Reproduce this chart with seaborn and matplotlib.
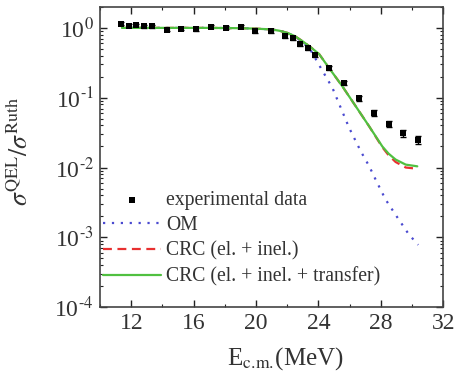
import numpy as np
import pandas as pd
import matplotlib
matplotlib.use("Agg")
import matplotlib.pyplot as plt
import seaborn as sns
from matplotlib.ticker import MultipleLocator, LogLocator, NullFormatter, FuncFormatter

# experimental data
e_exp = [11.36, 11.85, 12.32, 12.8, 13.3, 14.28, 15.2, 16.16, 17.12, 18.08, 19.04,
         19.95, 20.93, 21.87, 22.34, 22.81, 23.3, 23.75, 24.69, 25.65, 26.6, 27.57,
         28.5, 29.44, 30.4]
sig_exp = [1.14, 1.08, 1.10, 1.06, 1.06, 0.94, 0.97, 0.95, 1.04, 1.0, 1.04,
           0.91, 0.89, 0.77, 0.71, 0.58, 0.51, 0.41, 0.265, 0.162, 0.098, 0.061,
           0.042, 0.031, 0.025]
err_rel = [0.05, 0.05, 0.05, 0.05, 0.05, 0.05, 0.05, 0.05, 0.05, 0.05, 0.05,
           0.06, 0.06, 0.06, 0.06, 0.06, 0.06, 0.06, 0.07, 0.07, 0.08, 0.09,
           0.1, 0.12, 0.14]

# OM curve
e_om = [11.4, 14.0, 17.0, 19.0, 20.0, 21.0, 21.5, 22.0, 22.5, 23.0, 23.5, 24.16,
        24.9, 25.44, 25.97, 26.72, 27.25, 27.67, 28.3, 28.95, 29.8, 30.4]
sig_om = [1.0, 1.0, 1.0, 0.99, 0.975, 0.95, 0.91, 0.85, 0.75, 0.62, 0.48, 0.265,
          0.138, 0.071, 0.037, 0.017, 0.0105, 0.0067, 0.0035, 0.0021, 0.0011, 0.00078]

# CRC curves
e_crc = [11.4, 14.0, 17.0, 19.0, 20.0, 21.0, 21.5, 22.0, 22.5, 23.0, 23.5, 24.05,
         24.69, 25.54, 26.4, 27.25, 28.1, 28.5, 28.95, 29.6, 30.34]
sig_crc_t = [1.0, 1.0, 1.0, 0.99, 0.975, 0.95, 0.91, 0.85, 0.76, 0.64, 0.53, 0.42,
             0.265, 0.145, 0.075, 0.039, 0.020, 0.0158, 0.013, 0.011, 0.0104]
sig_crc = [1.0, 1.0, 1.0, 0.99, 0.975, 0.95, 0.91, 0.85, 0.76, 0.64, 0.53, 0.42,
           0.265, 0.145, 0.075, 0.039, 0.0195, 0.0150, 0.0120, 0.0100, 0.0096]

sns.set_style("ticks")
plt.rcParams.update({
    "font.family": ["Liberation Serif", "DejaVu Serif"],
    "mathtext.fontset": "stix",
    "axes.edgecolor": "#444444",
    "axes.linewidth": 1.2,
    "xtick.direction": "in",
    "ytick.direction": "in",
})

fig = plt.figure(figsize=(4.55, 3.82), dpi=100)
ax = fig.add_axes([0.22, 0.196, 0.754, 0.786])

df_exp = pd.DataFrame({"E": e_exp, "s": sig_exp})
yerr = np.array(sig_exp) * np.array(err_rel)
ax.errorbar(e_exp, sig_exp, yerr=yerr, fmt="none", ecolor="black", elinewidth=1,
            capsize=2.5, capthick=1)
sns.scatterplot(data=df_exp, x="E", y="s", marker="s", color="black", s=24,
                edgecolor="black", linewidth=0, ax=ax, label="experimental data", zorder=5)

sns.lineplot(x=e_om, y=sig_om, ax=ax, color="#4a4ad0", linestyle=(0, (1, 3)),
             linewidth=1.6, label="OM")
sns.lineplot(x=e_crc, y=sig_crc, ax=ax, color="#e83030", linestyle=(0, (4, 2.5)),
             linewidth=1.6, label="CRC (el. + inel.)")
sns.lineplot(x=e_crc, y=sig_crc_t, ax=ax, color="#50c040", linewidth=1.6,
             label="CRC (el. + inel. + transfer)")

ax.set_yscale("log")
ax.set_xlim(10, 32)
ax.set_ylim(1e-4, 2)
ax.xaxis.set_major_locator(MultipleLocator(4))
ax.xaxis.set_minor_locator(MultipleLocator(2))
ax.yaxis.set_major_locator(LogLocator(base=10, numticks=10))
ax.yaxis.set_minor_locator(LogLocator(base=10, subs=np.arange(2, 10) * 1.0, numticks=20))
ax.yaxis.set_minor_formatter(NullFormatter())


def pow10(v, pos):
    p = int(round(np.log10(v)))
    if p < 0:
        return "10$^{\\text{-}%d}$" % (-p)
    return "10$^{%d}$" % p


ax.yaxis.set_major_formatter(FuncFormatter(pow10))
ax.tick_params(which="both", top=True, right=True, labelsize=17, colors="#222222")
ax.tick_params(which="major", length=5, width=1, pad=4.5)
ax.tick_params(which="minor", length=2.5, width=0.8)
for lab in ax.get_xticklabels() + ax.get_yticklabels():
    lab.set_color("#333333")

ax.set_xlabel(r"E$_{\mathrm{c.\!m.\!}}$(MeV)", fontsize=18, color="#333333")
ax.xaxis.set_label_coords(0.54, -0.125)
ax.set_ylabel(r"$\sigma^{\mathrm{QEL}}/\sigma^{\mathrm{Ruth}}$", fontsize=18.5,
              color="#333333")
ax.yaxis.set_label_coords(-0.195, 0.52)

leg = ax.legend(loc="lower left", bbox_to_anchor=(-0.032, 0.023), frameon=False,
                fontsize=14.2, handlelength=2.95, handletextpad=0.25,
                labelspacing=0.315, borderaxespad=0.3)
for t in leg.get_texts():
    t.set_color("#333333")

fig.savefig("out.png", dpi=100)
